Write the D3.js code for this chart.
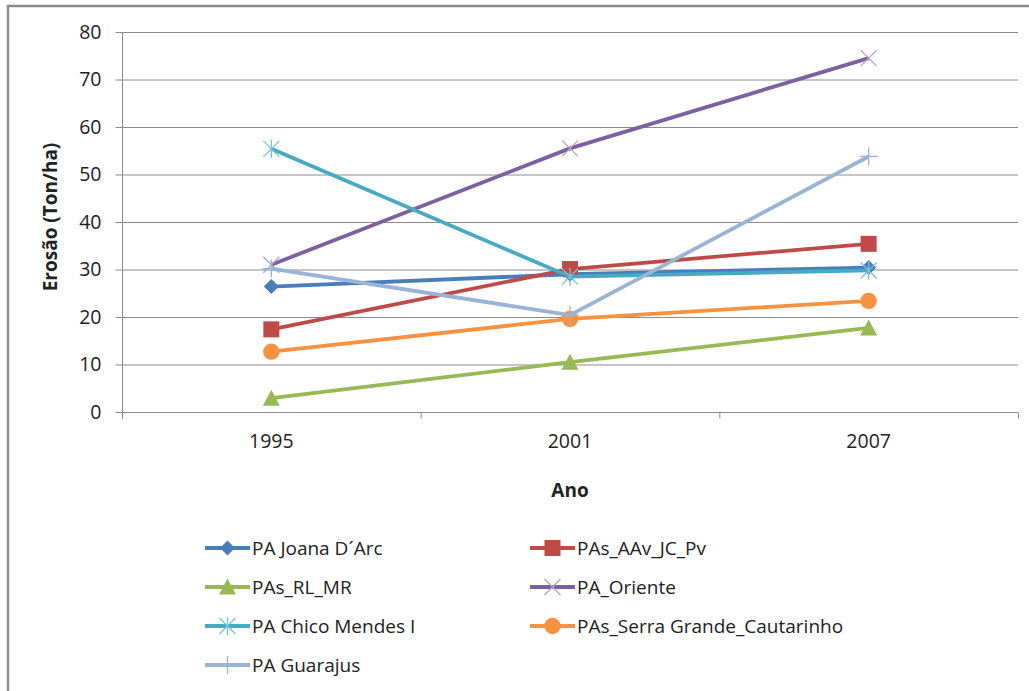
<!DOCTYPE html>
<html>
<head>
<meta charset="utf-8">
<script src="https://cdn.jsdelivr.net/npm/d3@7"></script>
<style>
  html, body { margin: 0; padding: 0; background: #fff; }
  svg { display: block; }
  text { font-family: "Open Sans", "DejaVu Sans", sans-serif; fill: #222; }
</style>
</head>
<body>
<svg id="chart" width="1029" height="691"></svg>
<script>
// Erosion per settlement project, by year
const years = ["1995", "2001", "2007"];
const yTicks = [0, 10, 20, 30, 40, 50, 60, 70, 80];

const seriesNames = [
  "PA Joana D\u00B4Arc",
  "PAs_AAv_JC_Pv",
  "PAs_RL_MR",
  "PA_Oriente",
  "PA Chico Mendes I",
  "PAs_Serra Grande_Cautarinho",
  "PA Guarajus"
];
const joanaDArc      = [26.4, 29.0, 30.4];
const aavJcPv        = [17.4, 30.1, 35.4];
const rlMr           = [2.9, 10.5, 17.7];
const oriente        = [31.0, 55.5, 74.5];
const chicoMendes    = [55.4, 28.5, 29.8];
const serraGrande    = [12.7, 19.6, 23.4];
const guarajus       = [30.2, 20.4, 53.8];

const seriesColors = ["#4A7EBB", "#BE4B48", "#98B954", "#7D60A0", "#46AAC5", "#F69240", "#98B4D6"];
const markerColors = ["#4A7EBB", "#BE4B48", "#98B954", "#B4A2CC", "#7CC2D8", "#F69240", "#98B4D6"];
const markerKinds  = ["diamond", "square", "triangle", "x", "star", "circle", "plus"];

const seriesValues = [joanaDArc, aavJcPv, rlMr, oriente, chicoMendes, serraGrande, guarajus];

const svg = d3.select("#chart");

// outer frame
svg.append("rect")
  .attr("x", 8).attr("y", 6).attr("width", 1040).attr("height", 700)
  .attr("fill", "none").attr("stroke", "#8a8a8a").attr("stroke-width", 2.5);

const plotLeft = 122, plotRight = 1018, plotTop = 32, plotBottom = 412;

const x = d3.scaleBand().domain(years).range([plotLeft, plotRight]);
const y = d3.scaleLinear().domain([0, 80]).range([plotBottom, plotTop]);

// horizontal gridlines
svg.append("g")
  .selectAll("line")
  .data(yTicks.filter(d => d > 0))
  .join("line")
  .attr("x1", plotLeft).attr("x2", plotRight)
  .attr("y1", d => y(d) + 0.5).attr("y2", d => y(d) + 0.5)
  .attr("stroke", "#8c8c8c").attr("stroke-width", 1);

// y axis
const yAxis = svg.append("g")
  .attr("transform", `translate(${plotLeft + 0.5},0)`)
  .call(d3.axisLeft(y).tickValues(yTicks).tickSize(7).tickPadding(14));
yAxis.select(".domain").attr("d", `M0,${plotTop}V${plotBottom + 7}`).attr("stroke", "#8c8c8c");
yAxis.selectAll(".tick line").attr("stroke", "#8c8c8c");
yAxis.selectAll(".tick text")
  .attr("font-size", 19.5).attr("font-family", "Open Sans").attr("fill", "#222");

// x axis
const xAxis = svg.append("g")
  .attr("transform", `translate(0,${plotBottom + 0.5})`)
  .call(d3.axisBottom(x).tickSize(0).tickPadding(22));
xAxis.select(".domain").remove();
xAxis.selectAll(".tick text")
  .attr("font-size", 19.5).attr("font-family", "Open Sans").attr("fill", "#222");
xAxis.append("line")
  .attr("x1", plotLeft).attr("x2", plotRight)
  .attr("stroke", "#8c8c8c");
// tick marks on category boundaries
const boundaries = years.map(d => x(d)).concat([plotRight]);
xAxis.selectAll(".boundary")
  .data(boundaries)
  .join("line")
  .attr("class", "boundary")
  .attr("x1", d => d + 0.5).attr("x2", d => d + 0.5)
  .attr("y1", 0).attr("y2", 6)
  .attr("stroke", "#8c8c8c");

// axis titles
svg.append("text")
  .attr("x", 570).attr("y", 497)
  .attr("text-anchor", "middle")
  .attr("font-size", 19).attr("font-weight", "bold")
  .text("Ano");

svg.append("text")
  .attr("transform", `translate(57,${(plotTop + plotBottom) / 2 - 5}) rotate(-90)`)
  .attr("text-anchor", "middle")
  .attr("font-size", 19).attr("font-weight", "bold")
  .text("Erosão (Ton/ha)");

// marker shapes
function drawMarker(g, kind, color, cx, cy) {
  const m = g.append("g").attr("transform", `translate(${cx},${cy})`);
  if (kind === "diamond") {
    m.append("path").attr("d", "M0,-7.5L7.5,0L0,7.5L-7.5,0Z").attr("fill", color);
  } else if (kind === "square") {
    m.append("rect").attr("x", -8).attr("y", -8).attr("width", 16).attr("height", 16).attr("fill", color);
  } else if (kind === "triangle") {
    m.append("path").attr("d", "M0,-8.5L8.5,7.5L-8.5,7.5Z").attr("fill", color);
  } else if (kind === "circle") {
    m.append("circle").attr("r", 8.2).attr("fill", color);
  } else if (kind === "x") {
    m.append("path").attr("d", "M-8,-8L8,8M-8,8L8,-8")
      .attr("stroke", color).attr("stroke-width", 1.3).attr("fill", "none");
  } else if (kind === "star") {
    m.append("path").attr("d", "M-8,-8L8,8M-8,8L8,-8M0,-9V9")
      .attr("stroke", color).attr("stroke-width", 1.3).attr("fill", "none");
  } else if (kind === "plus") {
    m.append("path").attr("d", "M-9,0H9M0,-9V9")
      .attr("stroke", color).attr("stroke-width", 1.3).attr("fill", "none");
  }
}

// series lines and markers
const line = d3.line()
  .x((d, i) => x(years[i]) + x.bandwidth() / 2)
  .y(d => y(d));

const plot = svg.append("g");
seriesValues.forEach((vals, s) => {
  plot.append("path")
    .attr("d", line(vals))
    .attr("fill", "none")
    .attr("stroke", seriesColors[s])
    .attr("stroke-width", 3.8)
    .attr("stroke-linejoin", "round");
  vals.forEach((v, i) => {
    drawMarker(plot, markerKinds[s], markerColors[s], x(years[i]) + x.bandwidth() / 2, y(v));
  });
});

// legend: two columns
const legend = svg.append("g");
const legendCols = [205, 530];
const legendRows = [548, 587, 626, 665];
seriesNames.forEach((name, s) => {
  const col = s % 2, row = Math.floor(s / 2);
  const lx = legendCols[col], ly = legendRows[row];
  const item = legend.append("g");
  item.append("line")
    .attr("x1", lx).attr("x2", lx + 45)
    .attr("y1", ly).attr("y2", ly)
    .attr("stroke", seriesColors[s]).attr("stroke-width", 3.8);
  drawMarker(item, markerKinds[s], markerColors[s], lx + 22.5, ly);
  item.append("text")
    .attr("x", lx + 47).attr("y", ly)
    .attr("dy", "0.35em")
    .attr("font-size", 19)
    .text(name);
});
</script>
</body>
</html>
